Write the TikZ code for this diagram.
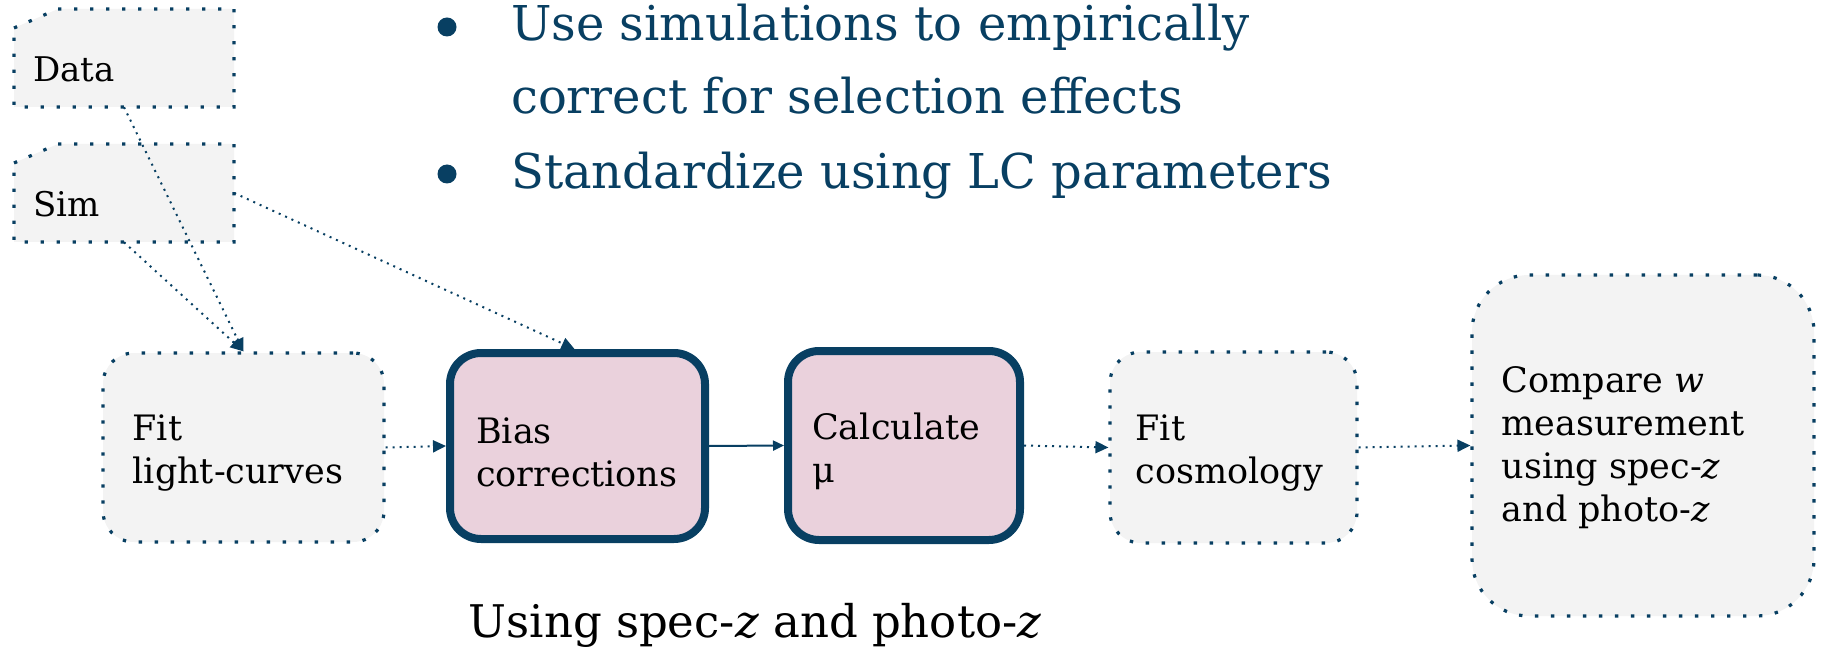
\documentclass[tikz,border=0pt]{standalone}
\usepackage{fontspec}
\setmainfont{DejaVu Serif}
\usetikzlibrary{arrows.meta,calc}
\definecolor{dblue}{RGB}{8,63,98}
\definecolor{boxgrey}{RGB}{243,243,243}
\definecolor{boxpink}{RGB}{234,209,220}
\tikzset{
  dotborder/.style={draw=dblue, line width=3.2pt, dash pattern=on 3.4pt off 12.6pt, fill=boxgrey},
  greybox/.style={dotborder, rounded corners=31pt, inner sep=0pt},
  pinkbox/.style={draw=dblue, line width=8pt, fill=boxpink, rounded corners=31pt, inner sep=0pt},
  boxtext/.style={inner sep=0pt, align=left, font=\fontsize{35}{43}\selectfont},
  srcbox/.style={inner sep=0pt, font=\fontsize{34}{43}\selectfont},
  conn/.style={draw=dblue, line width=2pt, dash pattern=on 2pt off 5pt, -{Triangle[length=13pt,width=12pt]}},
  solidconn/.style={draw=dblue, line width=2pt, -{Triangle[length=11pt,width=10pt]}},
  bullettext/.style={text=dblue, anchor=base west, inner sep=0pt, font=\fontsize{48}{74}\selectfont},
}
\begin{document}
\begin{tikzpicture}[x=1pt,y=-1pt]
\useasboundingbox (0,0) rectangle (1822,652);

% source boxes with cut corner
\fill[boxgrey] (14,28) -- (58,9) -- (234,9) -- (234,107) -- (14,107) -- cycle;
\draw[dotborder, fill=none] (14,28) -- (58,9) -- (234,9) -- (234,107) -- (14,107) -- cycle;
\node[srcbox, minimum width=220pt, minimum height=98pt] (data) at (124,58) {};
\node[srcbox, anchor=base west] (datat) at (33,82) {Data};

\fill[boxgrey] (14,163) -- (58,144) -- (234,144) -- (234,242) -- (14,242) -- cycle;
\draw[dotborder, fill=none] (14,163) -- (58,144) -- (234,144) -- (234,242) -- (14,242) -- cycle;
\node[srcbox, minimum width=220pt, minimum height=98pt] (sim) at (124,193) {};
\node[srcbox, anchor=base west] (simt) at (33,217) {Sim};

% main flow boxes
\node[greybox, minimum width=281pt, minimum height=189pt] (fitlc) at (243.5,447.5) {};
\node[pinkbox, minimum width=255pt, minimum height=186pt] (bias) at (577.5,446) {};
\node[pinkbox, minimum width=232pt, minimum height=189pt] (calc) at (904,445.5) {};
\node[greybox, minimum width=247pt, minimum height=191pt] (fitcos) at (1233.5,447.5) {};
\node[greybox, rounded corners=57pt, minimum width=342pt, minimum height=341pt] (comp) at (1643,445.5) {};

% box texts
\node[boxtext, anchor=west, yshift=-6pt] (fitlct) at ([xshift=31pt]fitlc.west) {Fit\\light-curves};
\node[boxtext, anchor=west, yshift=-6pt] (biast) at ([xshift=30pt]bias.west) {Bias\\corrections};
\node[boxtext, anchor=west, yshift=-6pt] (calct) at ([xshift=28pt]calc.west) {Calculate\\μ};
\node[boxtext, anchor=west, yshift=-6pt] (fitcost) at ([xshift=27pt]fitcos.west) {Fit\\cosmology};
\node[boxtext, anchor=west, yshift=-2pt] (compt) at ([xshift=31pt]comp.west)
  {Compare \textit{w}\\measurement\\using spec-\textit{z}\\and photo-\textit{z}};

% connectors
\draw[conn] (data.south) -- (fitlc.north);
\draw[conn] (sim.south) -- (fitlc.north);
\draw[conn] (sim.east) -- ([xshift=-3pt]bias.north);
\draw[conn] (fitlc.east) -- (bias.west);
\draw[solidconn] (bias.east) -- (calc.west);
\draw[conn] (calc.east) -- (fitcos.west);
\draw[conn] (fitcos.east) -- (comp.west);

% bullets
\node[circle, fill=dblue, inner sep=0pt, minimum size=19pt] (b1) at (447,27) {};
\node[circle, fill=dblue, inner sep=0pt, minimum size=19pt] (b2) at (447,174) {};
\node[bullettext] (l1) at (511,41) {Use simulations to empirically};
\node[bullettext] (l2) at (511,114) {correct for selection effects};
\node[bullettext] (l3) at (511,189) {Standardize using LC parameters};

% caption
\node[anchor=base, inner sep=0pt, font=\fontsize{45}{54}\selectfont] (cap) at (755,637)
  {Using spec-\textit{z} and photo-\textit{z}};
\end{tikzpicture}
\end{document}
